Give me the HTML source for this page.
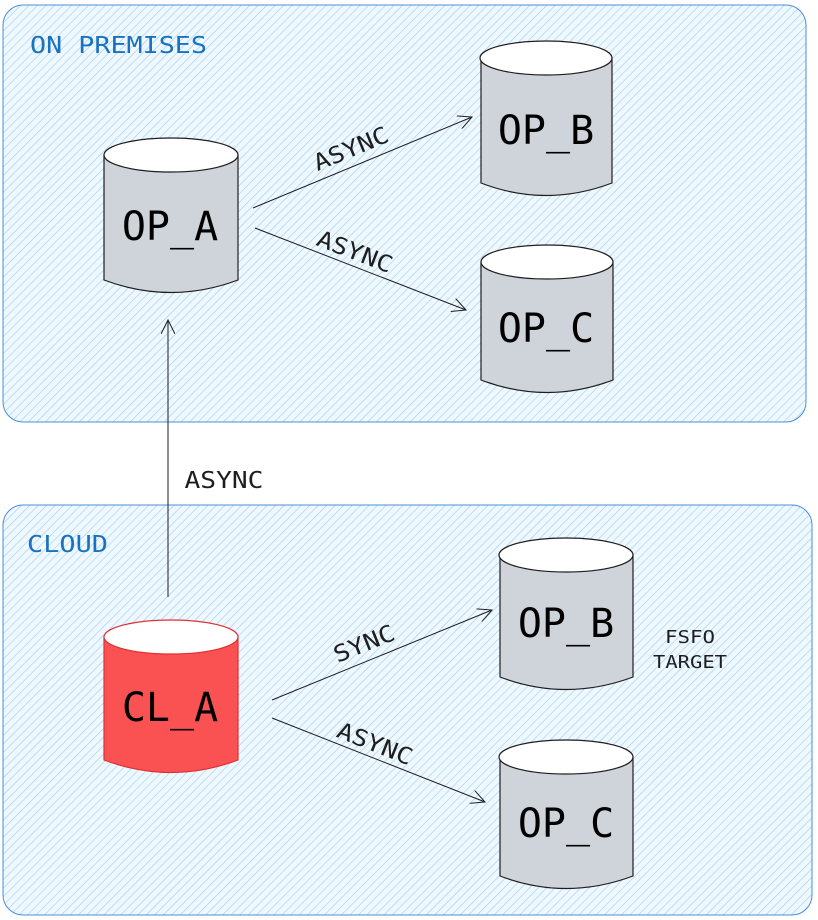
<!DOCTYPE html>
<html><head><meta charset="utf-8"><style>
html,body{margin:0;padding:0;background:#fff;}
svg{display:block;}
text{font-family:"DejaVu Sans Mono","Liberation Mono",monospace;}
</style></head><body>
<svg width="818" height="920" viewBox="0 0 818 920" xmlns="http://www.w3.org/2000/svg">
<defs>
<pattern id="h" width="6" height="6" patternUnits="userSpaceOnUse" patternTransform="rotate(45)">
<rect width="6" height="6" fill="#eff8ff"/>
<line x1="0" y1="0" x2="0" y2="6" stroke="#a0d0f2" stroke-width="1.3"/>
</pattern>
<marker id="a" markerWidth="16" markerHeight="14" refX="14" refY="7" orient="auto" markerUnits="userSpaceOnUse">
<path d="M0,0 L14,7 L0,14" fill="none" stroke="#1e1e1e" stroke-width="1"/>
</marker>
</defs>
<rect x="0" y="0" width="818" height="920" fill="#fff"/>
<rect x="3" y="5" width="803" height="417" rx="20" fill="url(#h)" stroke="#4a8fd6" stroke-width="1"/>
<rect x="3" y="505" width="809" height="410" rx="20" fill="url(#h)" stroke="#4a8fd6" stroke-width="1"/>
<text x="30" y="53" font-size="23" fill="#1971c2" textLength="177" lengthAdjust="spacingAndGlyphs">ON PREMISES</text>
<text x="27" y="552" font-size="23" fill="#1971c2" textLength="81" lengthAdjust="spacingAndGlyphs">CLOUD</text>

<g stroke="#1e1e1e" stroke-width="1" fill="none">
<line x1="253" y1="208" x2="472" y2="117" marker-end="url(#a)"/>
<line x1="255" y1="228" x2="466" y2="310" marker-end="url(#a)"/>
<line x1="168" y1="597" x2="168" y2="320" marker-end="url(#a)"/>
<line x1="272" y1="700" x2="492" y2="610" marker-end="url(#a)"/>
<line x1="272" y1="718" x2="485" y2="802" marker-end="url(#a)"/>
</g>
<g font-size="23" fill="#1e1e1e" text-anchor="middle">
<text transform="translate(354,156) rotate(-22.6)" textLength="79" lengthAdjust="spacingAndGlyphs">ASYNC</text>
<text transform="translate(352,259) rotate(21)" textLength="79" lengthAdjust="spacingAndGlyphs">ASYNC</text>
<text x="224" y="488" textLength="79" lengthAdjust="spacingAndGlyphs">ASYNC</text>
<text transform="translate(367,651) rotate(-22)" textLength="64" lengthAdjust="spacingAndGlyphs">SYNC</text>
<text transform="translate(372,751) rotate(21.5)" textLength="79" lengthAdjust="spacingAndGlyphs">ASYNC</text>
</g>
<text x="690" y="643" font-size="18" fill="#1e1e1e" text-anchor="middle" textLength="50" lengthAdjust="spacingAndGlyphs">FSFO</text>
<text x="690" y="668" font-size="18" fill="#1e1e1e" text-anchor="middle" textLength="74" lengthAdjust="spacingAndGlyphs">TARGET</text>

<g stroke="#1e1e1e" stroke-width="1.2">
<path d="M104,155 L104,280 Q171,305 238,280 L238,155 Z" fill="#ced4da"/>
<ellipse cx="171" cy="155" rx="67" ry="17" fill="#fff"/>
<path d="M481,58 L481,183 Q546,208 612,183 L612,58 Z" fill="#ced4da"/>
<ellipse cx="546" cy="58" rx="66" ry="17" fill="#fff"/>
<path d="M481,262 L481,380 Q547,405 613,380 L613,262 Z" fill="#ced4da"/>
<ellipse cx="547" cy="262" rx="66" ry="17" fill="#fff"/>
<path d="M104,637 L104,760 Q171,785 238,760 L238,637 Z" fill="#fa5252" stroke="#e03131"/>
<ellipse cx="171" cy="637" rx="67" ry="17" fill="#ffffff" stroke="#e03131"/>
<path d="M500,555 L500,677 Q566,702 633,677 L633,555 Z" fill="#ced4da"/>
<ellipse cx="566" cy="555" rx="67" ry="17" fill="#fff"/>
<path d="M500,757 L500,876 Q566,901 633,876 L633,757 Z" fill="#ced4da"/>
<ellipse cx="566" cy="757" rx="67" ry="17" fill="#fff"/>
</g>
<g font-size="40" fill="#000" text-anchor="middle">
<text x="170" y="240">OP_A</text>
<text x="546" y="144">OP_B</text>
<text x="546" y="342">OP_C</text>
<text x="170" y="721">CL_A</text>
<text x="566" y="637">OP_B</text>
<text x="566" y="837">OP_C</text>
</g>
</svg>
</body></html>
